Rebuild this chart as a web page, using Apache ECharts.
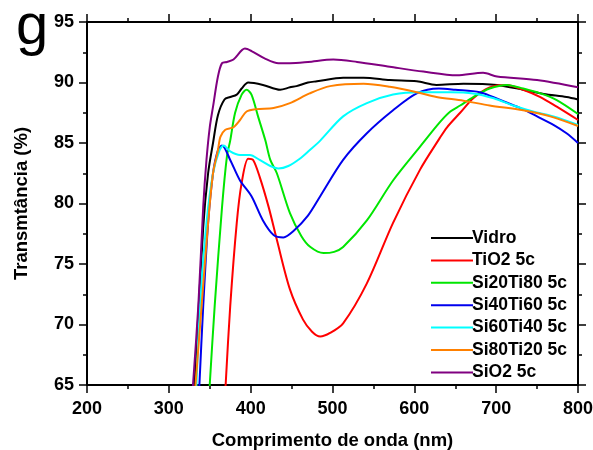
<!DOCTYPE html>
<html><head><meta charset="utf-8">
<script src="https://cdn.jsdelivr.net/npm/echarts@6/dist/echarts.min.js"></script>
<style>html,body{margin:0;padding:0;background:#fff}#c{width:593px;height:450px}</style>
</head><body><div id="c"></div>
<script>
var seriesNames = ["Vidro","TiO2 5c","Si20Ti80 5c","Si40Ti60 5c","Si60Ti40 5c","Si80Ti20 5c","SiO2 5c"];
var xTicks = [200,300,400,500,600,700,800];
var yTicks = [65,70,75,80,85,90,95];

var vidro = [[331,64.5],[342,78],[348,82.5],[354,85],[360,87.3],[368,88.6],[375,88.8],[383,89.0],[389,89.5],[397,90.0],[415,89.8],[436,89.4],[448,89.6],[456,89.7],[470,90.0],[481,90.1],[513,90.4],[538,90.4],[570,90.2],[603,90.1],[627,89.8],[660,89.9],[701,89.8],[733,89.4],[758,89.05],[786,88.8],[800,88.6]];
var tio2 = [[369,64.5],[375,71.5],[383,78.4],[389,81.7],[397,83.7],[403,83.6],[411,82.2],[422,79.7],[432,77.0],[448,72.9],[464,70.4],[475,69.4],[485,69.0],[497,69.3],[513,70.1],[542,73.4],[574,78.4],[607,82.8],[631,85.4],[640,86.3],[656,87.5],[672,88.7],[692,89.6],[713,89.8],[733,89.4],[754,88.8],[774,88.0],[800,86.9]];
var si20 = [[349.5,64.5],[356,71.5],[365,79.7],[371,83.9],[375,85.2],[381,87.5],[389,89.0],[395,89.4],[401,89.0],[409,87.2],[418,85.2],[424,83.6],[432,82.5],[448,79.2],[462,77.3],[473,76.4],[489,75.9],[502,76.0],[513,76.4],[542,78.6],[574,81.9],[607,84.7],[631,86.7],[644,87.6],[656,88.1],[672,88.8],[692,89.5],[713,89.8],[733,89.5],[754,89.1],[774,88.55],[800,87.4]];
var si40 = [[337,64.5],[342,71.5],[348,78.4],[354,82.5],[360,84.4],[365,84.8],[375,83.6],[387,81.9],[401,80.6],[415,78.6],[428,77.4],[440,77.2],[452,77.7],[470,79.0],[485,80.6],[513,83.6],[542,85.8],[574,87.7],[603,89.1],[630,89.5],[650,89.4],[680,89.2],[705,88.55],[729,87.9],[750,87.2],[770,86.5],[786,85.8],[800,85.0]];
var si60 = [[333.5,64.5],[338,71.5],[346,78.4],[354,82.5],[362,84.4],[367,84.8],[375,84.3],[387,84.0],[399,84.0],[411,83.6],[424,83.1],[434,82.9],[446,83.1],[460,83.7],[472,84.4],[485,85.2],[513,87.2],[542,88.3],[574,89.0],[607,89.2],[644,89.2],[672,89.1],[697,88.7],[721,88.1],[745,87.6],[770,87.2],[800,86.5]];
var si80 = [[332,64.5],[340,71.5],[348,78.4],[354,82.5],[360,84.4],[363,85.5],[369,86.1],[379,86.3],[387,86.9],[395,87.6],[407,87.8],[428,87.9],[448,88.3],[472,89.1],[497,89.7],[538,89.9],[570,89.65],[603,89.2],[627,88.8],[660,88.5],[692,88.1],[733,87.7],[766,87.2],[800,86.4]];
var sio2 = [[329,64.5],[336,71.5],[342,79.7],[346,83.6],[350,86.3],[354,88.0],[360,90.5],[365,91.6],[371,91.7],[379,91.9],[393,92.8],[401,92.6],[417,92.0],[434,91.6],[448,91.6],[470,91.7],[501,91.9],[530,91.7],[570,91.3],[611,90.9],[652,90.6],[684,90.8],[701,90.5],[750,90.2],[800,89.6]];

var dataSets = [vidro, tio2, si20, si40, si60, si80, sio2];
var colors = ["#000000","#ff0000","#00e600","#0000ee","#00ffff","#ff8000","#800080"];

var chart = echarts.init(document.getElementById('c'), null, {renderer:'canvas'});
var font = '"Liberation Sans", Arial, sans-serif';
var axisLine = {show:true, lineStyle:{color:'#000', width:2}};
function xAx(pos, labels){
  return {type:'value', position:pos, min:200, max:800, interval:100,
    axisLine:axisLine, axisTick:{show:true, length:8, lineStyle:{width:1.5,color:'#000'}},
    minorTick:{show:true, splitNumber:2, length:4, lineStyle:{width:1.5,color:'#000'}},
    splitLine:{show:false},
    axisLabel:{show:labels, color:'#000', fontFamily:font, fontWeight:'bold', fontSize:18, margin:15},
    name: labels ? 'Comprimento de onda (nm)' : '', nameLocation:'middle', nameGap:46,
    nameTextStyle:{color:'#000', fontFamily:font, fontWeight:'bold', fontSize:18.5}};
}
function yAx(pos, labels){
  return {type:'value', position:pos, min:65, max:95, interval:5,
    axisLine:axisLine, axisTick:{show:true, length:8, lineStyle:{width:1.5,color:'#000'}},
    minorTick:{show:true, splitNumber:2, length:4, lineStyle:{width:1.5,color:'#000'}},
    splitLine:{show:false},
    axisLabel:{show:labels, color:'#000', fontFamily:font, fontWeight:'bold', fontSize:18, margin:13},
    name: labels ? 'Transmtância (%)' : '', nameLocation:'middle', nameGap:56,
    nameTextStyle:{color:'#000', fontFamily:font, fontWeight:'bold', fontSize:18.5}};
}
var series = dataSets.map(function(d,i){
  return {name:seriesNames[i], type:'line', data:d, xAxisIndex:0, yAxisIndex:0,
    showSymbol:false, symbol:'none', smooth:0.3, lineStyle:{width:2, color:colors[i]},
    itemStyle:{color:colors[i]}, clip:true, silent:true, animation:false};
});
chart.setOption({
  animation:false,
  grid:{left:87, right:15, top:22, bottom:65, containLabel:false, outerBoundsMode:'none'},
  title:{text:'g', left:11, top:-6, textStyle:{fontFamily:font, fontWeight:'normal', fontSize:58, color:'#000'}},
  legend:{orient:'vertical', left:426, top:224, itemWidth:42, itemHeight:2, itemGap:4.4,
    icon:'rect', data:seriesNames,
    textStyle:{fontFamily:font, fontWeight:'bold', fontSize:17.5, color:'#000', padding:[0,0,0,-6]}},
  xAxis:[xAx('bottom', true), xAx('top', false)],
  yAxis:[yAx('left', true), yAx('right', false)],
  series: series
});
</script></body></html>
